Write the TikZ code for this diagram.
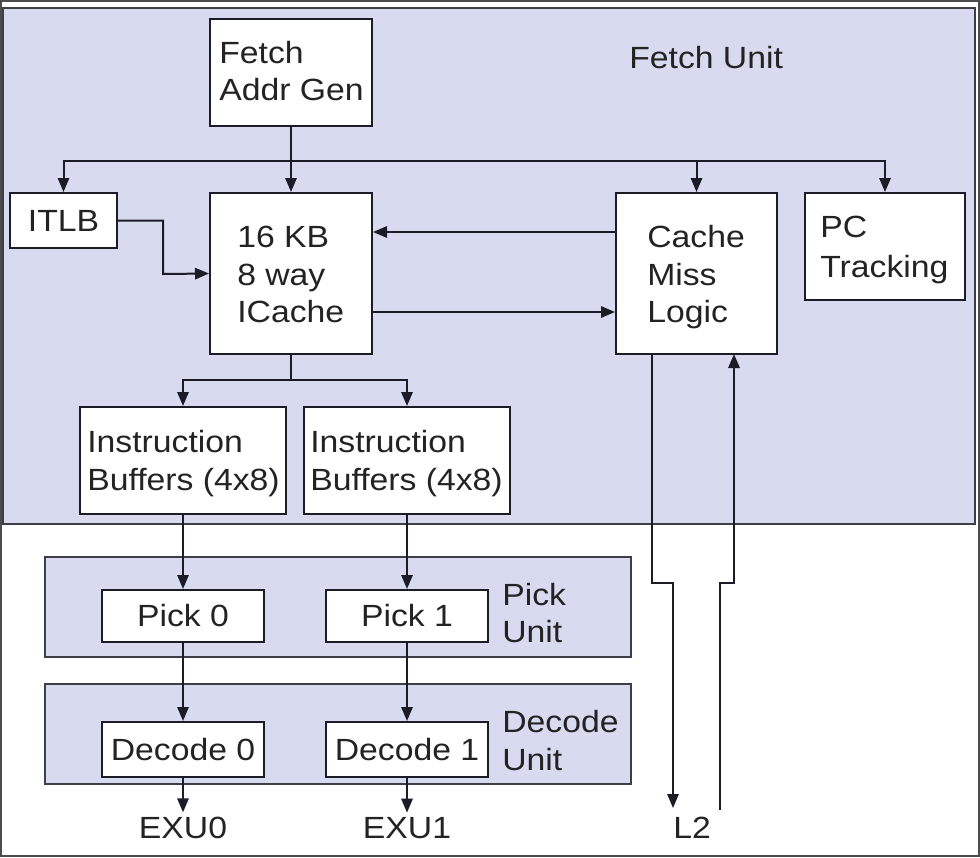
\documentclass[tikz,border=0pt]{standalone}
\usepackage{fontspec}
\setmainfont{Liberation Sans}[FakeStretch=1.1]
\usetikzlibrary{arrows.meta,fit}
\definecolor{lav}{RGB}{216,218,240}
\definecolor{ink}{RGB}{28,28,40}
\definecolor{txt}{RGB}{35,35,35}
\begin{document}
\begin{tikzpicture}[x=0.75pt,y=-0.75pt,
  region/.style={draw=ink!85, line width=1.4pt, fill=lav, inner sep=0pt},
  box/.style={draw=ink, line width=1.5pt, fill=white, inner sep=0pt, font=\fontsize{23}{28}\selectfont, text=txt},
  lbl/.style={font=\fontsize{23}{28}\selectfont, text=txt, inner sep=0pt, anchor=base west},
  term/.style={font=\fontsize{23}{28}\selectfont, text=txt, inner sep=3pt, anchor=base},
  conn/.style={draw=ink, line width=1.5pt, -{Triangle[length=10.5pt,width=8.5pt]}},
  wire/.style={draw=ink, line width=1.5pt}]
\useasboundingbox (0,0) rectangle (980,857);
\draw[gray!60!black, line width=1.5pt] (1,1) rectangle (979,856);

% regions
\node[region, fit={(3,8) (975,524)}] (fetchu) {};
\node[region, fit={(45,557) (631,657)}] (picku) {};
\node[region, fit={(45,684) (631,784)}] (decu) {};

% boxes
\node[box, fit={(210,19) (372,126)}] (fag) {};
\node[box, minimum width=80.25pt, minimum height=41.25pt] (itlb) at (63.5,220.5) {ITLB};
\node[box, fit={(210,193) (372,354)}] (icache) {};
\node[box, fit={(616,193) (777,354)}] (cml) {};
\node[box, fit={(805,193) (965,300)}] (pct) {};
\node[box, fit={(80,407) (286,514)}] (ib0) {};
\node[box, fit={(304,407) (510,514)}] (ib1) {};
\node[box, minimum width=121.5pt, minimum height=39pt] (pick0) at (183,616) {Pick 0};
\node[box, minimum width=121.5pt, minimum height=39pt] (pick1) at (407,616) {Pick 1};
\node[box, minimum width=121.5pt, minimum height=41.25pt] (dec0) at (183,749.5) {Decode 0};
\node[box, minimum width=121.5pt, minimum height=41.25pt] (dec1) at (407,749.5) {Decode 1};

% texts
\node[lbl] (fagA) at (219,63) {Fetch};
\node[lbl] (fagB) at (219,100) {Addr Gen};
\node[lbl] (fuT) at (629,68) {Fetch Unit};
\node[lbl] (icA) at (237,247) {16 KB};
\node[lbl] (icB) at (237,285) {8 way};
\node[lbl] (icC) at (237,322) {ICache};
\node[lbl] (cmA) at (647,247) {Cache};
\node[lbl] (cmB) at (647,285) {Miss};
\node[lbl] (cmC) at (647,322) {Logic};
\node[lbl] (pcA) at (820,237) {PC};
\node[lbl] (pcB) at (820,277) {Tracking};
\node[lbl] (ibA) at (87,452) {Instruction};
\node[lbl] (ibB) at (87,490) {Buffers (4x8)};
\node[lbl] (ibC) at (310,452) {Instruction};
\node[lbl] (ibD) at (310,490) {Buffers (4x8)};
\node[lbl] (puA) at (502,605) {Pick};
\node[lbl] (puB) at (502,642) {Unit};
\node[lbl] (duA) at (502,732) {Decode};
\node[lbl] (duB) at (502,770) {Unit};
\node[term] (exu0) at (183,838) {EXU0};
\node[term] (exu1) at (407,838) {EXU1};
\node[lbl] (l2) at (673,838) {L2};

% connectors
\coordinate (bus) at (291,161);
\draw[conn] (fag.south) -- (icache.north);
\draw[conn] (bus) -| (itlb.north);
\draw[conn] (bus) -| (cml.north);
\draw[conn] (bus) -| (pct.north);

\coordinate (k1) at (163,274);
\draw[conn] (itlb.east) -| (k1) -- (icache.west);

\coordinate (ya) at (0,232);
\coordinate (yb) at (0,312);
\draw[conn] (cml.west |- ya) -- (icache.east |- ya);
\draw[conn] (icache.east |- yb) -- (cml.west |- yb);

\coordinate (split) at (291,380);
\draw[wire] (icache.south) -- (split);
\draw[conn] (split) -| (ib0.north);
\draw[conn] (split) -| (ib1.north);

\draw[conn] (ib0.south) -- (pick0.north);
\draw[conn] (ib1.south) -- (pick1.north);
\draw[conn] (pick0.south) -- (dec0.north);
\draw[conn] (pick1.south) -- (dec1.north);
\draw[conn] (dec0.south) -- (exu0.north);
\draw[conn] (dec1.south) -- (exu1.north);

\coordinate (mo) at (652,354);
\coordinate (mi) at (734,354);
\coordinate (jog) at (0,583);
\coordinate (l2in) at (673,808);
\coordinate (l2out) at (720,810);
\draw[conn] (mo) -- (mo |- jog) -| (l2in);
\draw[conn] (l2out) |- (mi |- jog) -- (mi);
\end{tikzpicture}
\end{document}
